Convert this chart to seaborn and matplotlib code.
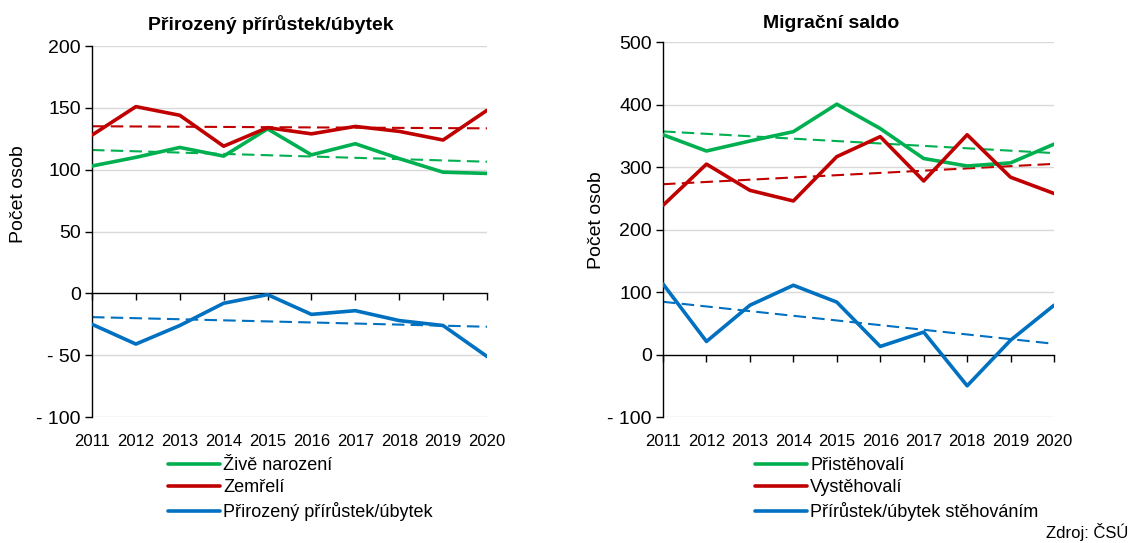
import matplotlib
matplotlib.use('Agg')
import matplotlib.pyplot as plt
from matplotlib.lines import Line2D
from matplotlib.ticker import FuncFormatter
import numpy as np
import pandas as pd
import seaborn as sns

sns.set_style('white')
plt.rcParams['font.family'] = ['Liberation Sans', 'DejaVu Sans']
plt.rcParams['text.color'] = 'black'
plt.rcParams['axes.labelcolor'] = 'black'
plt.rcParams['xtick.color'] = 'black'
plt.rcParams['ytick.color'] = 'black'

years = [2011, 2012, 2013, 2014, 2015, 2016, 2017, 2018, 2019, 2020]

# přirozená měna
zive_narozeni = [103, 110, 118, 111, 133, 112, 121, 109, 98, 97]
zemreli = [128, 151, 144, 119, 134, 129, 135, 131, 124, 148]
prirozeny = [-25, -41, -26, -8, -1, -17, -14, -22, -26, -51]

# migrace
pristehovali = [352, 326, 342, 357, 401, 362, 314, 302, 307, 337]
vystehovali = [239, 305, 263, 246, 317, 349, 278, 352, 284, 258]
migracni = [113, 21, 79, 111, 84, 13, 36, -50, 23, 79]

GREEN, RED, BLUE = '#00B050', '#C00000', '#0070C0'

left_series = {'Živě narození': zive_narozeni, 'Zemřelí': zemreli,
               'Přirozený přírůstek/úbytek': prirozeny}
right_series = {'Přistěhovalí': pristehovali, 'Vystěhovalí': vystehovali,
                'Přírůstek/úbytek stěhováním': migracni}
colors = [GREEN, RED, BLUE]

fig = plt.figure(figsize=(11.33, 5.43), dpi=100)
ax1 = fig.add_axes([0.0812, 0.2320, 0.3486, 0.6832])
ax2 = fig.add_axes([0.5852, 0.2320, 0.3451, 0.6900])


def fmt(v, pos):
    return f'- {abs(v):.0f}' if v < 0 else f'{v:.0f}'


def draw(ax, series, yticks):
    df = pd.DataFrame({'rok': years * len(series),
                       'serie': [k for k in series for _ in years],
                       'hodnota': [v for s in series.values() for v in s]})
    for y in yticks:
        if y != 0:
            ax.axhline(y, color='#D9D9D9', lw=1, zorder=0)
    # lineární trendy
    for (name, vals), c in zip(series.items(), colors):
        sns.regplot(x=years, y=vals, ax=ax, scatter=False, ci=None, truncate=True,
                    line_kws=dict(color=c, lw=1.5, dashes=(6, 3), zorder=2))
    sns.lineplot(data=df, x='rok', y='hodnota', hue='serie', palette=colors,
                 ax=ax, lw=2.6, legend=False, zorder=3)
    ax.set_xlim(years[0], years[-1])
    ax.set_ylim(yticks[0], yticks[-1])
    ax.set_yticks(yticks)
    ax.yaxis.set_major_formatter(FuncFormatter(fmt))
    ax.tick_params(axis='y', direction='out', length=5, width=1, color='black',
                   labelsize=14, pad=3, left=True)
    for s in ['top', 'right']:
        ax.spines[s].set_visible(False)
    ax.spines['left'].set_color('black')
    ax.spines['left'].set_linewidth(1)
    ax.spines['bottom'].set_position(('data', 0))
    ax.spines['bottom'].set_color('black')
    ax.spines['bottom'].set_linewidth(1)
    ax.set_xticks(years)
    ax.tick_params(axis='x', direction='out', length=5, width=1, color='black',
                   labelbottom=False, bottom=True)
    sec = ax.secondary_xaxis('bottom')
    sec.set_xticks(years)
    sec.set_xticklabels([str(y) for y in years])
    sec.tick_params(length=0, labelsize=12, pad=12)
    sec.spines['bottom'].set_visible(False)
    ax.set_xlabel('')
    ax.set_ylabel('Počet osob', fontsize=14)


draw(ax1, left_series, [-100, -50, 0, 50, 100, 150, 200])
draw(ax2, right_series, [-100, 0, 100, 200, 300, 400, 500])
ax1.yaxis.set_label_coords(-0.165, 0.60)
ax2.yaxis.set_label_coords(-0.148, 0.525)

fig.text(271 / 1133, 1 - 25 / 543, 'Přirozený přírůstek/úbytek', fontsize=14,
         fontweight='bold', ha='center', va='center')
fig.text(831 / 1133, 1 - 23 / 543, 'Migrační saldo', fontsize=14,
         fontweight='bold', ha='center', va='center')

for series, x0 in [(left_series, 168), (right_series, 755)]:
    handles = [Line2D([], [], color=c, lw=2.6) for c in colors]
    fig.legend(handles, list(series.keys()), loc='upper left',
               bbox_to_anchor=(x0 / 1133, 1 - 457 / 543), frameon=False,
               fontsize=13, handlelength=2.9, handletextpad=0.15,
               labelspacing=0.3, borderpad=0, borderaxespad=0)

fig.text(1128 / 1133, 1 - 532 / 543, 'Zdroj: ČSÚ', fontsize=12,
         ha='right', va='center')

fig.savefig('out.png', dpi=100)
